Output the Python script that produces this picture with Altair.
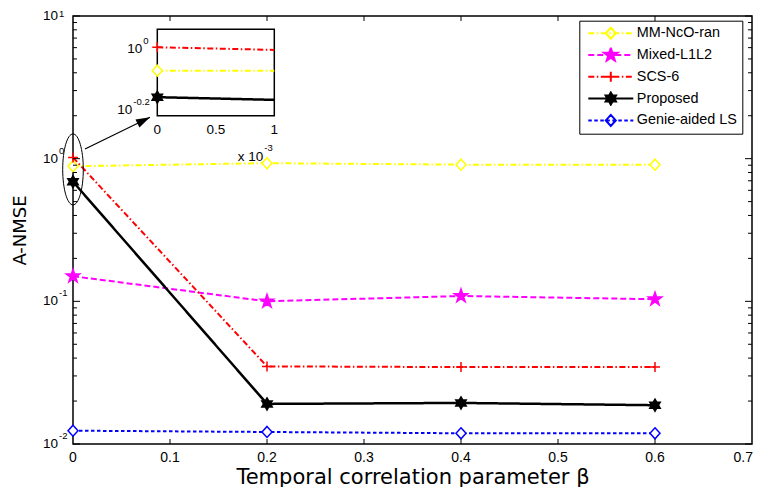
import math
import altair as alt
import pandas as pd

# ---------------- data ----------------
beta = [0.0, 0.2, 0.4, 0.6]
series = ["MM-NcO-ran", "Mixed-L1L2", "SCS-6", "Proposed", "Genie-aided LS"]
mm_ncoran = [0.885, 0.93, 0.908, 0.908]
mixed_l1l2 = [0.150, 0.100, 0.109, 0.1035]
scs6 = [1.02, 0.0350, 0.0346, 0.0346]
proposed = [0.689, 0.0191, 0.0194, 0.0187]
genie_ls = [0.0124, 0.01214, 0.01189, 0.01189]

inset_beta = [0.0, 0.001]
inset_mm = [0.849, 0.849]
inset_scs = [1.013, 0.993]
inset_prop = [0.695, 0.681]

x_ticks = [0.0, 0.1, 0.2, 0.3, 0.4, 0.5, 0.6, 0.7]
x_labels = ["0", "0.1", "0.2", "0.3", "0.4", "0.5", "0.6", "0.7"]
y_decades = [10.0, 1.0, 0.1, 0.01]
y_exps = ["1", "0", "-1", "-2"]
inset_x_ticks = [0.0, 0.0005, 0.001]
inset_x_labels = ["0", "0.5", "1"]
inset_y_ticks = [1.0, 10 ** -0.2]
inset_y_exps = ["0", "-0.2"]
inset_x_domain = [0.0, 0.001]
inset_y_domain = [0.6043, 1.16]

ellipse_x = [0.0]
ellipse_y = [0.841]
arrow_x = [0.0124, 0.0794]
arrow_y = [1.168, 1.95]

# ---------------- styles ----------------
W, H = 679, 428
TOP = 3  # plot origin is 3px lower than the reference's
FONT = "Liberation Sans"
FONT2 = "DejaVu Sans"
colors = ["#ffff00", "#ff00ff", "#ff0000", "#000000", "#0000ff"]
dashes = [[6, 2.5, 1.5, 2.5], [6, 3], [6, 2.5, 1.5, 2.5], [], [3.5, 2.5]]
widths = [2, 2, 2, 2.5, 2]
filled = [False, True, False, True, False]


def fmt(v):
    return f"{v:.3f}".rstrip("0").rstrip(".")


def star_pts(n, R, r, cx=0.0, k=1.0):
    pts = []
    for i in range(2 * n):
        a = -math.pi / 2 + i * math.pi / n
        rad = R if i % 2 == 0 else r
        pts.append(((cx + rad * math.cos(a)) / k, rad * math.sin(a) / k))
    return "M" + "L".join(f"{fmt(x)},{fmt(y)}" for x, y in pts) + "Z"


def marker(kind, cx=0.0, k=1.0):
    if kind == "diamond":
        return (f"M{fmt(cx/k)},{fmt(-5.5/k)}L{fmt((cx+5)/k)},0L{fmt(cx/k)},{fmt(5.5/k)}"
                f"L{fmt((cx-5)/k)},0Z")
    if kind == "star":
        return star_pts(5, 7, 2.7, cx, k)
    if kind == "plus":
        return f"M{fmt((cx-5)/k)},0H{fmt((cx+5)/k)}M{fmt(cx/k)},{fmt(-5/k)}V{fmt(5/k)}"
    if kind == "hex":
        return star_pts(6, 6, 3.46, cx, k)


kinds = ["diamond", "star", "plus", "hex", "diamond"]


def dash_path(x0, x1, pattern, k=1.0):
    if not pattern:
        return f"M{fmt(x0/k)},0H{fmt(x1/k)}"
    out, pos, i = [], x0, 0
    while pos < x1:
        seg = pattern[i % len(pattern)]
        end = min(pos + seg, x1)
        if i % 2 == 0:
            out.append(f"M{fmt(pos/k)},0H{fmt(end/k)}")
        pos = end
        i += 1
    return "".join(out)


# legend symbol: 45px line with the marker in its middle; symbol size 45^2 -> 1 unit = 22.5px
LEG_SIZE = 45 ** 2
K = 22.5
legend_paths = [dash_path(-22.5, 22.5, d, K) + marker(m, 0, K) for d, m in zip(dashes, kinds)]
legend_fills = [c if f else "transparent" for c, f in zip(colors, filled)]

values = [mm_ncoran, mixed_l1l2, scs6, proposed, genie_ls]
inset_values = {0: inset_mm, 2: inset_scs, 3: inset_prop}

# ---------------- scales / encodings ----------------
xs = alt.Scale(domain=[0, 0.7], nice=False, zero=False)
ys = alt.Scale(type="log", domain=[0.01, 10], nice=False)
x_axis = alt.Axis(labels=False, ticks=False, tickSize=0, domain=False, grid=False,
                  title="Temporal correlation parameter β", titleFontSize=21, titleFont=FONT2,
                  titleFontWeight="normal", titlePadding=22)
y_axis = alt.Axis(labels=False, ticks=False, tickSize=0, domain=False, grid=False,
                  title="A-NMSE", titleFontSize=18, titleFont=FONT2, titleFontWeight="normal",
                  titlePadding=44)
X = alt.X("x:Q", scale=xs, axis=x_axis)
Y = alt.Y("y:Q", scale=ys, axis=y_axis)

ixs = alt.Scale(domain=inset_x_domain, range=[84.3, 201.3], nice=False, zero=False)
iys = alt.Scale(type="log", domain=inset_y_domain, range=[102.7 - TOP, 16.3 - TOP], nice=False)
IX = alt.X("x:Q", scale=ixs, axis=None)
IY = alt.Y("y:Q", scale=iys, axis=None)

# ---------------- main layers ----------------
main_layers = []
for i, s in enumerate(series):
    df = pd.DataFrame({"x": beta, "y": values[i]})
    main_layers.append(alt.Chart(df).mark_line(color=colors[i], strokeWidth=widths[i],
                                               strokeDash=dashes[i] if dashes[i] else [1, 0])
                       .encode(x=X, y=Y))
for i, s in enumerate(series):
    df = pd.DataFrame({"x": beta, "y": values[i]})
    main_layers.append(alt.Chart(df).mark_point(shape=marker(kinds[i]), size=4, opacity=1,
                                                filled=False, stroke=colors[i], strokeWidth=1.5,
                                                fill=colors[i] if filled[i] else "white")
                       .encode(x=X, y=Y))

# ticks (inside)
minor = [k * 10.0 ** e for e in (-2, -1, 0) for k in range(2, 10)]
ymaj = pd.DataFrame({"y": y_decades})
ymin = pd.DataFrame({"y": minor})
xt = pd.DataFrame({"x": x_ticks[1:-1]})
tick_style = dict(color="black", strokeWidth=1)
main_layers += [
    alt.Chart(ymaj).mark_rule(**tick_style).encode(y=Y, x=alt.value(0), x2=alt.value(7)),
    alt.Chart(ymaj).mark_rule(**tick_style).encode(y=Y, x=alt.value(W), x2=alt.value(W - 7)),
    alt.Chart(ymin).mark_rule(**tick_style).encode(y=Y, x=alt.value(0), x2=alt.value(4)),
    alt.Chart(ymin).mark_rule(**tick_style).encode(y=Y, x=alt.value(W), x2=alt.value(W - 4)),
    alt.Chart(xt).mark_rule(**tick_style).encode(x=X, y=alt.value(H), y2=alt.value(H - 5)),
    alt.Chart(xt).mark_rule(**tick_style).encode(x=X, y=alt.value(0), y2=alt.value(5)),
]

# x tick labels (last one kept inside the page)
xl = pd.DataFrame({"x": x_ticks, "t": x_labels})
main_layers += [
    alt.Chart(xl.iloc[:-1]).mark_text(baseline="middle", fontSize=14, color="black")
    .encode(x=X, y=alt.value(H + 14), text="t:N"),
    alt.Chart(xl.iloc[-1:]).mark_text(align="right", baseline="middle", fontSize=14,
                                      color="black", dx=1)
    .encode(x=X, y=alt.value(H + 14), text="t:N"),
]

# y labels 10^n
ylab = pd.DataFrame({"y": y_decades, "e": y_exps})
main_layers += [
    alt.Chart(ylab).mark_text(align="right", baseline="middle", dx=-15, fontSize=13.5,
                              color="black", text="10").encode(y=Y, x=alt.value(0)),
    alt.Chart(ylab.iloc[1:]).mark_text(align="left", baseline="middle", dx=-14, dy=-8,
                                       fontSize=9.5, color="black").encode(
        y=Y, x=alt.value(0), text="e:N"),
    alt.Chart(ylab.iloc[:1]).mark_text(align="left", baseline="middle", dx=-14, dy=-2.5,
                                       fontSize=9.5, color="black").encode(
        y=Y, x=alt.value(0), text="e:N"),
]

# ellipse + arrow
ell = pd.DataFrame({"x": ellipse_x, "y": ellipse_y})
main_layers.append(alt.Chart(ell).mark_point(
    shape="M-10.3,0A10.3,35.5 0 1,0 10.3,0A10.3,35.5 0 1,0 -10.3,0",
    size=4, opacity=1, filled=False, stroke="black", strokeWidth=1).encode(x=X, y=Y))
arr = pd.DataFrame({"x": arrow_x, "y": arrow_y})
main_layers.append(alt.Chart(arr).mark_line(color="black", strokeWidth=1.2).encode(x=X, y=Y))
ang = math.degrees(math.atan2(-32, 65)) % 360
main_layers.append(alt.Chart(arr.iloc[[1]]).mark_point(
    shape="M0,0L-14,-4.5L-14,4.5Z", size=4, angle=ang, opacity=1, filled=True,
    color="black").encode(x=X, y=Y))

# legend layer (no marks drawn, only the legend)
long = pd.DataFrame({"x": beta * 5, "y": sum(values, []),
                     "series": [s for s in series for _ in beta]})
leg = alt.Legend(title=None, orient="none", legendX=506.3, legendY=7.7 - TOP,
                 strokeColor="black", fillColor="white", padding=5,
                 symbolSize=LEG_SIZE, symbolStrokeWidth=2, symbolOffset=3, labelOffset=2.5,
                 clipHeight=15, labelFontSize=14.4, labelFont=FONT, labelColor="black",
                 rowPadding=5.8, labelLimit=300)
main_layers.append(alt.Chart(long).transform_filter("false").mark_point(
    opacity=1, filled=False, strokeWidth=2).encode(
    x=X, y=Y,
    color=alt.Color("series:N", scale=alt.Scale(domain=series, range=colors), legend=leg),
    shape=alt.Shape("series:N", scale=alt.Scale(domain=series, range=legend_paths), legend=leg),
    fill=alt.Fill("series:N", scale=alt.Scale(domain=series, range=legend_fills), legend=leg),
))

main = alt.layer(*main_layers)

# ---------------- inset ----------------
inset_layers = []
box = pd.DataFrame({"x": [inset_x_domain[0]], "x2": [inset_x_domain[1]],
                    "y": [inset_y_domain[0]], "y2": [inset_y_domain[1]]})
inset_layers.append(alt.Chart(box).mark_rect(fill="white", stroke="black", strokeWidth=1.5)
                    .encode(x=IX, x2="x2:Q", y=IY, y2="y2:Q"))
for i in (0, 2, 3):
    df = pd.DataFrame({"x": inset_beta, "y": inset_values[i]})
    inset_layers.append(alt.Chart(df).mark_line(color=colors[i], strokeWidth=widths[i],
                                                strokeDash=dashes[i] if dashes[i] else [1, 0])
                        .encode(x=IX, y=IY))
for i in (0, 2, 3):
    df = pd.DataFrame({"x": inset_beta[:1], "y": inset_values[i][:1]})
    inset_layers.append(alt.Chart(df).mark_point(shape=marker(kinds[i]), size=4, opacity=1,
                                                 filled=False, stroke=colors[i], strokeWidth=1.5,
                                                 fill=colors[i] if filled[i] else "white")
                        .encode(x=IX, y=IY))
ixl = pd.DataFrame({"x": inset_x_ticks, "t": inset_x_labels})
inset_layers.append(alt.Chart(ixl).mark_text(baseline="middle", fontSize=13.5, color="black")
                    .encode(x=IX, y=alt.value(117 - TOP), text="t:N"))
gap = pd.DataFrame({"x": [inset_x_domain[1]], "y": [inset_y_domain[0]]})
inset_layers.append(alt.Chart(gap).mark_text(align="right", baseline="middle", dx=-11,
                                             fontSize=13.5, color="black", text="x 10")
                    .encode(x=IX, y=alt.value(144 - TOP)))
inset_layers.append(alt.Chart(gap).mark_text(align="left", baseline="middle", dx=-10,
                                             fontSize=9.5, color="black", text="-3")
                    .encode(x=IX, y=alt.value(135 - TOP)))
for v, e, off in zip(inset_y_ticks, inset_y_exps, (0, 10)):
    d = pd.DataFrame({"x": [0.0], "y": [v]})
    inset_layers.append(alt.Chart(d).mark_text(align="right", baseline="middle", dx=-15 - off,
                                               fontSize=13.5, color="black", text="10")
                        .encode(x=IX, y=IY))
    inset_layers.append(alt.Chart(d).mark_text(align="left", baseline="middle", dx=-14 - off,
                                               dy=-8, fontSize=9.5, color="black", text=e)
                        .encode(x=IX, y=IY))

inset = alt.layer(*inset_layers)

chart = alt.layer(main, inset).resolve_scale(x="independent", y="independent").properties(
    width=W, height=H,
    autosize=alt.AutoSizeParams(type="none"),
    padding={"left": 65, "top": 5 + TOP, "right": 1, "bottom": 43},
    background="white",
).configure(font=FONT).configure_view(stroke="black", strokeWidth=1.5).configure_axis(
    labelColor="black", titleColor="black")

chart.save("out.html", embed_options={"renderer": "svg", "actions": False})
